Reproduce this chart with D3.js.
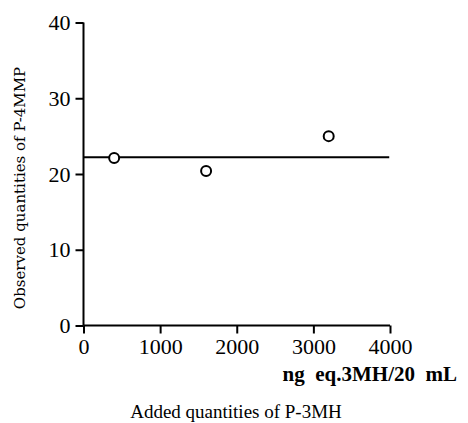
<!DOCTYPE html>
<html>
<head>
<meta charset="utf-8">
<script src="https://cdn.jsdelivr.net/npm/d3@7"></script>
<style>
  body { margin:0; background:#fff; }
  svg { display:block; }
  .axis text { font-family:"Liberation Serif","Times New Roman",serif; font-size:22px; fill:#000; }
  .axis path, .axis line { stroke:#000; stroke-width:2; }
</style>
</head>
<body>
<div id="chart"></div>
<script>
// data
const addedX = [400, 1600, 3200];
const observedY = [22.1, 20.4, 25.0];
const meanLine = 22.2;
const xTicks = [0, 1000, 2000, 3000, 4000];
const yTicks = [0, 10, 20, 30, 40];

const W = 468, H = 423;
const MG = {t:22.5, r:78, b:97.5, l:83.5};
const iW = W-MG.l-MG.r, iH = H-MG.t-MG.b;

const svg = d3.select("#chart").append("svg").attr("width",W).attr("height",H);
const g = svg.append("g").attr("transform",`translate(${MG.l},${MG.t})`);

const x = d3.scaleLinear().domain([0,4000]).range([0,iW]);
const y = d3.scaleLinear().domain([0,40]).range([iH,0]);

// axes
const xa = g.append("g").attr("class","axis").attr("transform",`translate(0,${iH})`)
  .call(d3.axisBottom(x).tickValues(xTicks).tickFormat(d3.format("d")).tickSize(8).tickSizeOuter(0).tickPadding(5));
const ya = g.append("g").attr("class","axis")
  .call(d3.axisLeft(y).tickValues(yTicks).tickFormat(d3.format("d")).tickSize(8).tickSizeOuter(0).tickPadding(5));
xa.select(".domain").attr("d",`M0,0H${iW}`);
ya.select(".domain").attr("d",`M0,0V${iH}`);

// horizontal reference line
g.append("line")
  .attr("x1",x(0)).attr("x2",x(3990))
  .attr("y1",y(meanLine)).attr("y2",y(meanLine))
  .attr("stroke","#000").attr("stroke-width",2);

// points
g.selectAll(".pt").data(addedX).join("circle").attr("class","pt")
  .attr("cx",d=>x(d)).attr("cy",(d,i)=>y(observedY[i])).attr("r",5)
  .attr("fill","#fff").attr("stroke","#000").attr("stroke-width",2);

// unit label
svg.append("text")
  .attr("x",457).attr("y",381).attr("text-anchor","end")
  .attr("font-family","'Liberation Serif',serif").attr("font-weight","bold").attr("font-size",21)
  .style("white-space","pre")
  .text("ng  eq.3MH/20  mL");

// x title
svg.append("text")
  .attr("x",236).attr("y",418).attr("text-anchor","middle")
  .attr("font-family","'Liberation Serif',serif").attr("font-size",19)
  .text("Added quantities of P-3MH");

// y title
svg.append("text")
  .attr("transform","translate(25,188) rotate(-90)").attr("text-anchor","middle")
  .attr("font-family","'DejaVu Serif',serif").attr("font-size",15)
  .text("Observed quantities of P-4MMP");
</script>
</body>
</html>
